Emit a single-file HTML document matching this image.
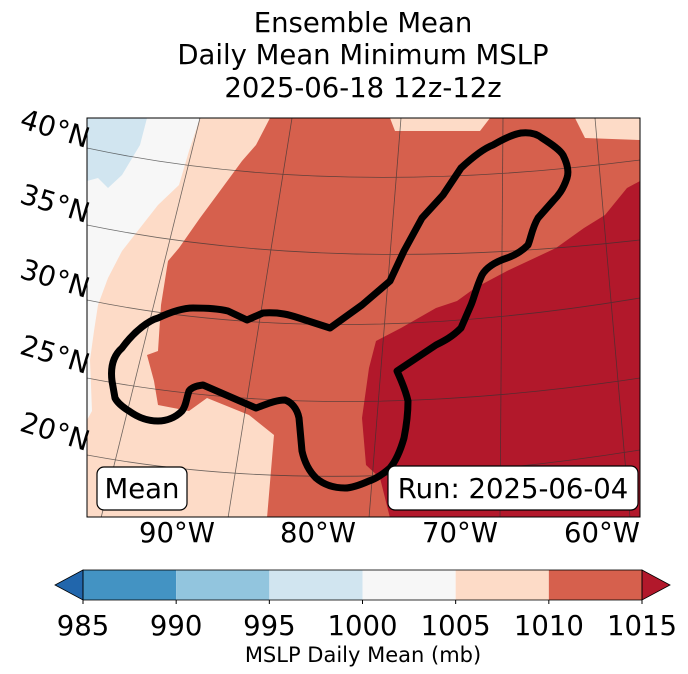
<!DOCTYPE html>
<html><head><meta charset="utf-8"><style>
body{margin:0;background:#fff;}
svg{display:block;font-family:"DejaVu Sans","Liberation Sans",sans-serif;}
</style></head><body>
<svg id="chart" width="688" height="674" viewBox="0 0 688 674">
<g font-size="27.5" text-anchor="middle" fill="#000">
<text x="363" y="32">Ensemble Mean</text>
<text x="363" y="64">Daily Mean Minimum MSLP</text>
<text x="363" y="97">2025-06-18 12z-12z</text>
</g>
<defs><clipPath id="mapclip"><rect x="87" y="118" width="553" height="399"/></clipPath></defs>
<g clip-path="url(#mapclip)">
<rect x="87" y="118" width="553" height="399" fill="#fddbc7"/>
<polygon fill="#f7f7f7" points="87,118 200,118 189,151 179,185 158,205 140,228 122,251 108,278 98,305 94,331 90,360 92,411 87,420"/>
<polygon fill="#d1e5f0" points="87,118 147,118 140,145 122,175 108,188 98,178 87,181"/>
<polygon fill="#d6604d" points="270,118 390,118 395,131 480,131 490,118 575,118 585,138 640,140 640,518 267,518 274,435 249,415 207,398 189,411 158,405 154,381 147,355 158,351 161,305 168,261 179,248 200,218 217,195 242,161 256,145"/>
<polygon fill="#b2182b" points="640,181 627,188 605,215 584,228 556,248 507,271 475,288 457,301 436,308 401,328 376,341 369,368 362,418 366,465 380,478 390,518 640,518"/>
<g stroke="#333" stroke-width="0.8" fill="none" opacity="0.7">
<path d="M87,148 Q330,200 640,160"/>
<path d="M87,225 Q330,275 640,240"/>
<path d="M87,300 Q330,350 640,298"/>
<path d="M87,378 Q330,425 640,378"/>
<path d="M87,455 Q330,500 640,450"/>
<path d="M200,118 L101,518"/>
<path d="M292,118 L228,518"/>
<path d="M401,118 L369,518"/>
<path d="M503,118 L500,518"/>
<path d="M595,118 L630,518"/>
</g>
<path fill="none" stroke="#000" stroke-width="7" stroke-linejoin="round" d="M112,381 C110,365 114,355 122,348 C135,330 150,320 158,318 C175,310 185,308 193,308 C210,308 220,309 228,311 L247,320 L263,313 C280,312 290,315 299,318 L330,328 L362,305 L390,281 L404,251 L422,218 L443,195 L461,168 C475,155 485,148 493,145 C505,138 515,134 521,133 C530,132 537,134 542,138 C553,145 560,150 563,155 C568,165 569,172 567,178 C563,190 558,196 553,201 L538,218 C532,228 531,238 528,245 C520,253 513,256 507,258 C495,262 486,268 482,275 C476,288 474,298 471,305 L461,328 C452,337 444,341 436,345 L397,371 C402,382 406,392 408,401 C408,415 406,428 404,438 C400,452 395,462 390,468 C382,475 375,479 369,481 C360,485 352,488 345,488 C333,488 323,484 316,478 C308,470 304,460 302,451 L299,418 C297,408 291,402 285,400 C275,400 265,405 256,408 L203,385 C195,386 191,388 189,391 C186,400 186,406 182,411 C175,418 166,421 158,421 C145,421 136,416 129,411 C121,406 117,402 115,398 Z"/>
</g>
<rect x="87" y="118" width="553" height="399" fill="none" stroke="#000" stroke-width="1"/>
<g font-size="28" fill="#000" text-anchor="end">
<text x="86" y="148" transform="rotate(17 86 148)">40°N</text>
<text x="86" y="223" transform="rotate(17 86 223)">35°N</text>
<text x="86" y="298" transform="rotate(17 86 298)">30°N</text>
<text x="86" y="374" transform="rotate(17 86 374)">25°N</text>
<text x="86" y="451" transform="rotate(17 86 451)">20°N</text>
</g>
<g font-size="27.5" fill="#000" text-anchor="middle">
<text x="177" y="542">90°W</text>
<text x="318" y="542">80°W</text>
<text x="460" y="542">70°W</text>
<text x="602" y="542">60°W</text>
</g>
<g>
<rect x="97" y="467" width="90" height="43" rx="7" fill="#fff" stroke="#000" stroke-width="1.2"/>
<text x="142" y="498" font-size="27.5" text-anchor="middle">Mean</text>
</g>
<g>
<rect x="388" y="466" width="250" height="44" rx="7" fill="#fff" stroke="#000" stroke-width="1.2"/>
<text x="513" y="498" font-size="27.5" text-anchor="middle">Run: 2025-06-04</text>
</g>
<g id="colorbar"></g>
<text x="363" y="662" font-size="21" text-anchor="middle">MSLP Daily Mean (mb)</text>
</svg>
<script>
const levels = [985, 990, 995, 1000, 1005, 1010, 1015];
const binColors = ["#4393c3", "#92c5de", "#d1e5f0", "#f7f7f7", "#fddbc7", "#d6604d"];
const tickLabels = ["985", "990", "995", "1000", "1005", "1010", "1015"];
const lowColor = "#2166ac", highColor = "#b2182b";
(function(){
  const ns = "http://www.w3.org/2000/svg";
  const g = document.getElementById("colorbar");
  const x0 = 83, x1 = 642, y0 = 570, h = 30;
  const sx = v => x0 + (v - levels[0]) / (levels[levels.length-1] - levels[0]) * (x1 - x0);
  for (let i = 0; i < binColors.length; i++) {
    const r = document.createElementNS(ns, "rect");
    r.setAttribute("x", sx(levels[i])); r.setAttribute("y", y0);
    r.setAttribute("width", sx(levels[i+1]) - sx(levels[i])); r.setAttribute("height", h);
    r.setAttribute("fill", binColors[i]);
    
    
    g.appendChild(r);
  }
  const lo = document.createElementNS(ns, "polygon");
  lo.setAttribute("points", `${x0},${y0} ${x0-28},${y0+h/2} ${x0},${y0+h}`);
  lo.setAttribute("fill", lowColor); lo.setAttribute("stroke", "#000"); lo.setAttribute("stroke-width", "0.8");
  
  
  g.appendChild(lo);
  const hi = document.createElementNS(ns, "polygon");
  hi.setAttribute("points", `${x1},${y0} ${x1+28},${y0+h/2} ${x1},${y0+h}`);
  hi.setAttribute("fill", highColor); hi.setAttribute("stroke", "#000"); hi.setAttribute("stroke-width", "0.8");
  
  
  g.appendChild(hi);
  const fr = document.createElementNS(ns, "rect");
  fr.setAttribute("x", x0); fr.setAttribute("y", y0); fr.setAttribute("width", x1-x0); fr.setAttribute("height", h);
  fr.setAttribute("fill", "none"); fr.setAttribute("stroke", "#000"); fr.setAttribute("stroke-width", "0.8");
  
  
  g.appendChild(fr);
  levels.forEach((v, i) => {
    const t = document.createElementNS(ns, "text");
    t.setAttribute("x", sx(v)); t.setAttribute("y", 635);
    t.setAttribute("font-size", "27.5"); t.setAttribute("text-anchor", "middle");
    t.textContent = tickLabels[i];
    
    
    g.appendChild(t);
    const tk = document.createElementNS(ns, "line");
    tk.setAttribute("x1", sx(v)); tk.setAttribute("x2", sx(v));
    tk.setAttribute("y1", y0+h); tk.setAttribute("y2", y0+h+4);
    tk.setAttribute("stroke", "#000");
    
    
    g.appendChild(tk);
  });
})();
</script>
</body></html>
